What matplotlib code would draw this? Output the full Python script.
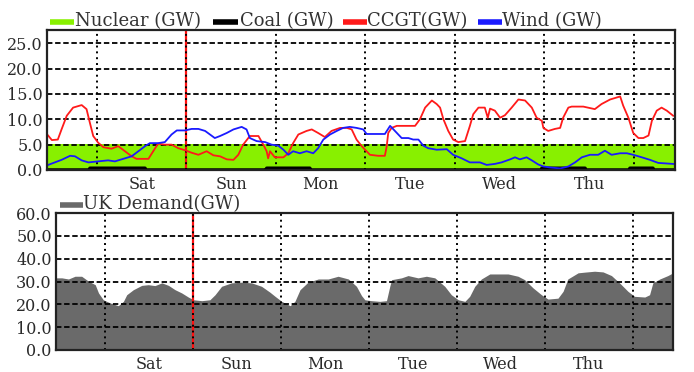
import matplotlib
matplotlib.use("Agg")
import matplotlib.pyplot as plt
from matplotlib.ticker import FormatStrFormatter
from matplotlib.lines import Line2D

# ---- data (hours relative to Saturday 00:00) ----
day_labels = ["Sat", "Sun", "Mon", "Tue", "Wed", "Thu"]
day_label_hours = [12, 36, 60, 84, 108, 132]
midnight_hours = [0, 24, 48, 72, 96, 120, 144]
now_hour = 24
x_range = [-13.4, 155.0]

nuclear_hours = [-13.4, 40, 100, 155.0]
nuclear_gw = [5.05, 5.05, 5.05, 5.05]

coal_hours = [-13.4, -2.0, -1.9, 12.9, 13.0, 45.4, 45.5, 57.1, 57.2, 119.2, 119.3, 130.9, 131.0,
              142.8, 142.9, 149.1, 149.2, 155.0]
coal_gw = [0.0, 0.0, 0.35, 0.35, 0.0, 0.0, 0.35, 0.35, 0.0, 0.0, 0.35, 0.35, 0.0,
           0.0, 0.35, 0.35, 0.0, 0.0]

ccgt_hours = [-13.1, -12.1, -10.5, -9.5, -8.1, -6.4, -4.1, -2.8, -1.9, -1.0, 0.3, 1.7, 3.9, 5.7,
              7.5, 9.3, 10.6, 13.8, 15.6, 16.4, 18.2, 20.0, 21.8, 23.6, 25.4, 27.2, 29.4, 31.2,
              33.0, 34.8, 36.6, 37.9, 39.2, 41.0, 43.3, 44.6, 45.5, 45.9, 46.4, 47.7, 50.0, 51.3,
              52.6, 54.0, 56.2, 57.6, 59.3, 61.1, 62.9, 65.2, 67.0, 68.3, 69.6, 71.0, 71.9, 73.2,
              75.4, 77.2, 77.7, 78.1, 79.0, 80.4, 83.5, 85.3, 86.6, 88.0, 89.8, 91.1, 92.0, 92.9,
              94.2, 95.5, 96.9, 98.7, 100.0, 100.9, 102.3, 104.0, 104.8, 105.4, 106.7, 108.1,
              109.4, 111.2, 113.0, 114.8, 116.6, 117.9, 119.3, 119.7, 121.0, 122.8, 124.2, 125.0,
              126.4, 127.3, 130.4, 133.5, 135.3, 137.6, 140.3, 141.1, 142.5, 143.8, 145.2, 146.5,
              147.9, 148.8, 150.1, 151.4, 152.8, 154.5]
ccgt_gw = [6.8, 5.9, 6.0, 8.0, 10.7, 12.3, 12.8, 12.0, 9.3, 6.7, 5.4, 4.5, 4.2, 4.7,
           3.7, 2.7, 2.2, 2.2, 4.3, 5.2, 5.0, 5.0, 4.3, 3.9, 3.4, 3.0, 3.7, 2.9,
           2.7, 2.1, 2.0, 3.0, 5.0, 6.7, 6.7, 5.0, 3.7, 2.3, 3.7, 2.5, 2.5, 3.3,
           5.3, 7.0, 7.7, 8.0, 7.3, 6.5, 7.7, 8.3, 8.3, 8.0, 6.0, 4.7, 4.0, 3.0,
           2.8, 2.8, 4.7, 7.3, 8.3, 8.7, 8.7, 8.7, 10.0, 12.3, 13.7, 13.0, 12.3, 10.0,
           7.7, 6.0, 5.5, 5.7, 8.7, 11.0, 12.3, 12.3, 10.3, 12.1, 11.7, 10.3,
           10.8, 12.3, 13.9, 13.7, 12.3, 10.3, 9.7, 8.3, 7.7, 8.1, 8.3, 10.3,
           12.3, 12.5, 12.5, 12.0, 13.0, 13.9, 14.5, 12.7, 10.3, 7.3, 6.3, 6.3,
           6.8, 9.7, 11.7, 12.3, 11.7, 10.7]

wind_hours = [-13.1, -11.3, -9.5, -7.2, -5.9, -4.1, -2.3, 0.3, 3.0, 4.8, 7.5, 9.3, 11.1, 12.9,
              14.2, 16.4, 18.2, 20.0, 21.4, 23.6, 25.4, 27.2, 29.0, 30.3, 31.6, 33.0, 34.8, 36.6,
              38.8, 40.1, 41.0, 42.8, 45.1, 46.8, 48.6, 50.0, 51.3, 52.6, 54.4, 56.2, 58.0, 59.3,
              60.7, 62.5, 64.3, 66.0, 67.8, 69.6, 71.4, 72.3, 74.5, 77.2, 78.6, 79.9, 81.7, 83.5,
              84.8, 86.2, 87.5, 88.8, 91.1, 93.8, 95.5, 97.8, 100.0, 102.7, 104.5, 106.7, 108.5,
              110.8, 112.1, 113.4, 115.2, 116.6, 118.3, 119.7, 121.5, 124.2, 126.4, 128.2, 130.0,
              132.2, 134.4, 136.2, 138.0, 140.3, 142.1, 143.8, 146.1, 148.3, 150.5, 154.5]
wind_gw = [1.0, 1.5, 2.0, 2.8, 2.7, 1.9, 1.5, 1.7, 1.9, 1.7, 2.3, 2.7, 3.7, 4.7,
           5.3, 5.3, 5.5, 7.0, 7.8, 7.8, 8.1, 8.1, 7.7, 7.0, 6.3, 6.7, 7.3, 8.0,
           8.5, 8.0, 6.3, 5.7, 5.5, 5.0, 4.8, 4.0, 3.0, 3.7, 3.3, 3.7, 3.3, 4.3,
           6.0, 7.0, 7.7, 8.3, 8.5, 8.3, 8.0, 7.1, 7.1, 7.1, 8.7, 7.7, 6.3, 6.3,
           6.0, 6.0, 4.8, 4.3, 4.0, 4.1, 3.0, 2.3, 1.5, 1.5, 1.0, 1.2, 1.5,
           2.1, 2.5, 2.1, 2.5, 1.9, 1.1, 0.7, 0.5, 0.3, 0.7, 1.5, 2.5,
           3.0, 3.0, 3.8, 3.0, 3.3, 3.3, 3.0, 2.5, 2.0, 1.4, 1.2]

demand_hours = [-13.4, -11.8, -10.0, -8.2, -6.4, -4.5, -2.7, -1.8, -0.5, 1.4, 3.6, 5.0, 5.9, 7.7,
                10.0, 11.8, 13.6, 15.5, 17.3, 19.1, 20.9, 22.7, 24.1, 26.4, 28.6, 30.0, 31.8,
                34.5, 37.3, 40.0, 42.7, 45.0, 46.4, 48.2, 50.5, 51.8, 53.2, 55.4, 58.2, 60.9,
                63.6, 66.4, 68.6, 70.0, 70.9, 72.7, 75.0, 76.8, 77.7, 78.2, 80.9, 82.7, 85.4,
                87.7, 90.0, 92.7, 94.5, 96.4, 98.2, 99.5, 100.9, 102.7, 105.0, 107.3, 110.0,
                112.7, 114.5, 116.8, 119.1, 120.9, 123.6, 125.0, 126.3, 129.1, 130.9, 133.6,
                135.9, 138.2, 140.4, 142.7, 144.5, 147.3, 148.6, 149.5, 151.4, 153.6, 155.0]
demand_gw = [31.6, 31.6, 31.1, 32.3, 32.3, 30.1, 28.6, 25.0, 22.0, 20.6, 19.4, 21.3, 24.2, 26.4,
             28.3, 28.6, 28.2, 29.4, 28.3, 26.4, 25.0, 23.2, 22.0, 21.6, 22.0, 24.2, 27.9,
             29.4, 29.7, 29.4, 27.9, 25.3, 23.5, 21.3, 19.4, 21.3, 26.4, 29.7, 31.1, 31.1,
             32.3, 31.1, 27.9, 23.8, 22.0, 21.6, 21.3, 21.6, 27.9, 30.8, 31.6, 32.6, 31.6,
             32.3, 31.6, 27.9, 24.2, 22.0, 21.3, 23.5, 27.9, 31.1, 33.3, 33.3, 33.3,
             32.3, 30.8, 27.2, 24.2, 22.3, 22.7, 25.7, 31.1, 33.8, 34.1, 34.5,
             34.2, 32.6, 29.4, 25.7, 23.5, 23.2, 24.2, 29.4, 31.1, 32.6, 33.8]

top_yticks = [0, 5, 10, 15, 20, 25]
bottom_yticks = [0, 10, 20, 30, 40, 50, 60]

# ---- styling ----
FONT = "DejaVu Serif"
TXT = "#2a2a2a"
plt.rcParams["font.family"] = FONT

W, H = 694, 372
fig = plt.figure(figsize=(W / 100, H / 100), dpi=100)
fig.patch.set_facecolor("white")

def fx(px):
    return px / W

def fy(py):
    return 1 - py / H

ax1 = fig.add_axes([fx(47), fy(170), fx(675) - fx(47), fy(30) - fy(170)])
ax2 = fig.add_axes([fx(56), fy(350), fx(673) - fx(56), fy(213) - fy(350)])

def style_axis(ax, yticks, ymax):
    ax.set_xlim(*x_range)
    ax.set_ylim(0, ymax)
    ax.set_yticks(yticks)
    ax.yaxis.set_major_formatter(FormatStrFormatter("%.1f"))
    ax.set_xticks(day_label_hours)
    ax.set_xticklabels(day_labels)
    ax.tick_params(axis="both", length=0, labelsize=11.5, colors=TXT, pad=3)
    ax.tick_params(axis="x", pad=4)
    for s in ax.spines.values():
        s.set_linewidth(1.6)
        s.set_color("#222222")
        s.set_zorder(6)
    for yv in yticks[1:]:
        ax.axhline(yv, color="black", lw=1.3, ls=(0, (3, 1.5)), zorder=3)
    ax.axvline(now_hour, color="#ff1010", lw=1.6, zorder=4)
    for h in midnight_hours:
        ax.axvline(h, color="black", lw=1.4, ls=(0, (1, 2)), zorder=4.5)

# top panel
ax1.fill_between(nuclear_hours, 0, nuclear_gw, color="#88f000", lw=0, zorder=1)
style_axis(ax1, top_yticks, 27.6)
ax1.plot(coal_hours, coal_gw, color="black", lw=2.5, zorder=5, solid_capstyle="butt")
ax1.plot(ccgt_hours, ccgt_gw, color="#ff1a1a", lw=1.3, zorder=5)
ax1.plot(wind_hours, wind_gw, color="#1a1aff", lw=1.3, zorder=5)

# bottom panel
ax2.fill_between(demand_hours, 0, demand_gw, color="#6a6a6a", lw=0, zorder=1)
style_axis(ax2, bottom_yticks, 60)

# ---- legends (overlay, pixel coordinates) ----
lg = fig.add_axes([0, 0, 1, 1])
lg.set_xlim(0, W)
lg.set_ylim(H, 0)
lg.axis("off")

legend_top = [("Nuclear (GW)", "#88f000", 50, 74, 75),
              ("Coal (GW)", "black", 213, 238, 240),
              ("CCGT(GW)", "#ff1a1a", 343, 367, 367),
              ("Wind (GW)", "#1a1aff", 478, 502, 502)]
for label, col, x0, x1, tx in legend_top:
    lg.add_line(Line2D([x0, x1], [22, 22], color=col, lw=4, solid_capstyle="butt"))
    lg.text(tx, 21, label, fontsize=13, color="#333333", va="center", ha="left")

lg.add_line(Line2D([60, 83], [205, 205], color="#6a6a6a", lw=4, solid_capstyle="butt"))
lg.text(83, 204, "UK Demand(GW)", fontsize=13, color="#333333", va="center", ha="left")

fig.savefig("out.png", dpi=100)
